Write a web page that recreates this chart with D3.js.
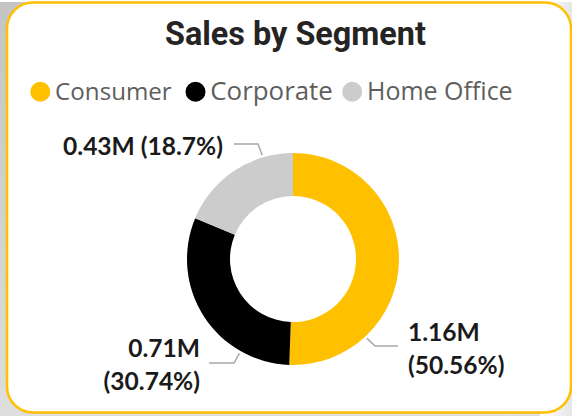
<!DOCTYPE html>
<html><head><meta charset="utf-8">
<script src="https://cdn.jsdelivr.net/npm/d3@7"></script>
<style>
html,body{margin:0;padding:0;background:#d2d2d2;}
svg{display:block;}
</style></head>
<body>
<svg id="c" width="572" height="416"></svg>
<script>
// ---- data ----
const segments = ["Consumer", "Corporate", "Home Office"];
const sales = [1161401, 706146, 429653];
const colors = ["#FFC000", "#000000", "#CCCCCC"];
const title = "Sales by Segment";

// ---- layout ----
const W = 572, H = 416;
const cx = 293, cy = 259, rOuter = 106, rInner = 63;
const labelLayout = [
  {anchorDeg: 137, elbow: [375, 346], end: [398, 346], tx: 408, anchor: "start", lines: 2, y0: 341},
  {anchorDeg: 209.6, elbow: [234, 363], end: [209, 363], tx: 200, anchor: "end", lines: 2, y0: 357},
  {anchorDeg: 343.5, elbow: [258, 144], end: [234, 144], tx: 223, anchor: "end", lines: 1, y0: 155}
];

const svg = d3.select("#c");

// background shadow gradient
const defs = svg.append("defs");
const g1 = defs.append("linearGradient").attr("id","bg").attr("x1","0").attr("y1","0").attr("x2","0").attr("y2","1");
g1.append("stop").attr("offset","0").attr("stop-color","#c4c4c4");
g1.append("stop").attr("offset","1").attr("stop-color","#dedede");
svg.append("rect").attr("width",W).attr("height",H).attr("fill","url(#bg)");
const g2 = defs.append("linearGradient").attr("id","rs").attr("x1","0").attr("y1","0").attr("x2","1").attr("y2","0");
g2.append("stop").attr("offset","0").attr("stop-color","#ffffff");
g2.append("stop").attr("offset","1").attr("stop-color","#e6e6e6");
svg.append("rect").attr("x",540).attr("y",0).attr("width",32).attr("height",H).attr("fill","url(#rs)");
svg.append("rect").attr("x",0).attr("y",0).attr("width",W).attr("height",2).attr("fill","#ffffff");

// card
svg.append("rect").attr("x",7).attr("y",2.5).attr("width",564).attr("height",410)
  .attr("rx",26).attr("ry",26).attr("fill","#ffffff").attr("stroke","#FFC000").attr("stroke-width",2.5);

function fit(sel, target){
  const w = sel.node().getComputedTextLength();
  const fs = parseFloat(sel.attr("font-size"));
  const nf = fs * target / w;
  sel.attr("font-size", nf);
  return nf;
}

// title
const t = svg.append("text").attr("x",295.5).attr("y",44.5).attr("text-anchor","middle")
  .attr("font-family","Roboto, 'DejaVu Sans', sans-serif").attr("font-weight",700)
  .attr("font-size",29).attr("fill","#252423").text(title);
fit(t, 261);

// legend
const legX = [40.3, 195.5, 352.2];
const legW = [116.7, 122.6, 145.7];
segments.forEach((s,i)=>{
  svg.append("circle").attr("cx",legX[i]).attr("cy",91.7).attr("r",10).attr("fill",colors[i]);
  const lt = svg.append("text").attr("x",legX[i]+14.8).attr("y",100)
    .attr("font-family","'Open Sans', 'Noto Sans', sans-serif").attr("font-size",24)
    .attr("fill","#605E5C").text(s);
  fit(lt, legW[i]);
});

// donut
const total = d3.sum(sales);
const pie = d3.pie().sort(null).value(d=>d)(sales);
const arc = d3.arc().innerRadius(rInner).outerRadius(rOuter);
const gd = svg.append("g").attr("transform",`translate(${cx},${cy})`);
gd.selectAll("path").data(pie).join("path").attr("d",arc).attr("fill",(d,i)=>colors[i]);

// labels
const fmtM = v => (v/1e6).toFixed(2) + "M";
const pctText = [ (sales[0]/total*100).toFixed(2)+"%", (sales[1]/total*100).toFixed(2)+"%", (sales[2]/total*100).toFixed(1)+"%" ];
const labelFont = "Lato, 'Open Sans', sans-serif";
const probe = svg.append("text").attr("font-family",labelFont).attr("font-weight",700)
  .attr("font-size",20).text(fmtM(sales[2]) + " (" + pctText[2] + ")");
const labelFs = fit(probe, 160);
probe.remove();
labelLayout.forEach((L,i)=>{
  const a = L.anchorDeg * Math.PI/180;
  const r = rOuter + 2.5;
  const p0 = [cx + r*Math.sin(a), cy - r*Math.cos(a)];
  svg.append("polyline").attr("points",[p0, L.elbow, L.end].map(p=>p.join(",")).join(" "))
    .attr("fill","none").attr("stroke","#A8A8A8").attr("stroke-width",1.5);
  const lines = L.lines === 2 ? [fmtM(sales[i]), "(" + pctText[i] + ")"] : [fmtM(sales[i]) + " (" + pctText[i] + ")"];
  lines.forEach((ln,j)=>{
    svg.append("text").attr("x",L.tx).attr("y",L.y0 + j*32.5).attr("text-anchor",L.anchor)
      .attr("font-family",labelFont).attr("font-weight",700)
      .attr("font-size",labelFs).attr("fill","#1a1a1a").text(ln);
  });
});
</script>
</body></html>
